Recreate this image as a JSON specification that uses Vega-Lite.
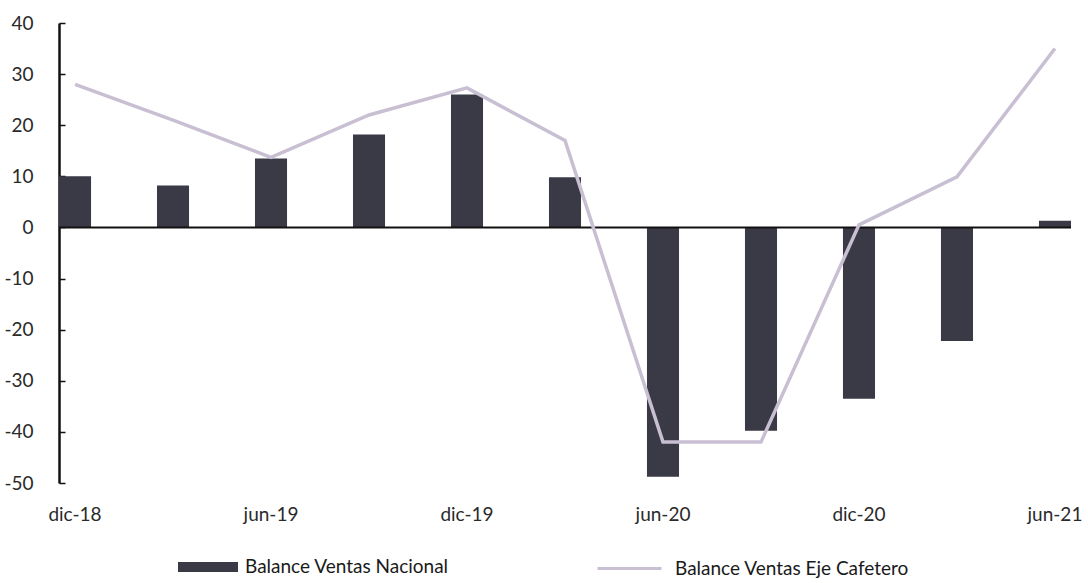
{
  "$schema": "https://vega.github.io/schema/vega-lite/v6.json",
  "autosize": "none",
  "width": 1012,
  "height": 460,
  "padding": {"left": 59, "top": 23, "right": 17, "bottom": 100},
  "background": "white",
  "config": {
    "font": "Lato",
    "view": {"stroke": null},
    "axis": {"labelFont": "Lato", "labelColor": "#2a2a2a", "grid": false, "title": null},
    "axisX": {"domain": false, "ticks": false, "labelAngle": 0, "labelFontSize": 19, "labelPadding": 22, "labelOverlap": false, "labelBound": false, "labelFlush": false},
    "axisY": {"domainColor": "#111111", "domainWidth": 2.5, "tickColor": "#111111", "tickWidth": 1.5, "tickSize": -6, "labelFontSize": 19, "labelPadding": 32},
    "legend": {"labelFont": "Lato", "labelColor": "#1a1a1a", "labelFontSize": 19, "labelLimit": 500, "padding": 0, "title": null}
  },
  "datasets": {
    "series": [
      {"q": "dic-18", "nacional": 10, "eje": 28},
      {"q": "mar-19", "nacional": 8.2, "eje": 21},
      {"q": "jun-19", "nacional": 13.5, "eje": 13.7},
      {"q": "sep-19", "nacional": 18.2, "eje": 22},
      {"q": "dic-19", "nacional": 26, "eje": 27.3},
      {"q": "mar-20", "nacional": 9.8, "eje": 17},
      {"q": "jun-20", "nacional": -48.8, "eje": -42},
      {"q": "sep-20", "nacional": -39.8, "eje": -42},
      {"q": "dic-20", "nacional": -33.5, "eje": 0.5},
      {"q": "mar-21", "nacional": -22.2, "eje": 9.9},
      {"q": "jun-21", "nacional": 1.3, "eje": 35}
    ],
    "zero": [{"z": 0}]
  },
  "layer": [
    {
      "data": {"name": "series"},
      "mark": {"type": "bar"},
      "encoding": {
        "x": {
          "field": "q",
          "type": "nominal",
          "sort": null,
          "scale": {"paddingInner": 0.673, "paddingOuter": 0},
          "axis": {"labelExpr": "substring(datum.value, 0, 3) == 'mar' || substring(datum.value, 0, 3) == 'sep' ? '' : datum.value"}
        },
        "y": {
          "field": "nacional",
          "type": "quantitative",
          "scale": {"domain": [-50, 40], "nice": false},
          "axis": {"values": [-50, -40, -30, -20, -10, 0, 10, 20, 30, 40], "labelExpr": "'' + datum.value"}
        },
        "fill": {
          "datum": "Balance Ventas Nacional",
          "scale": {"range": ["#3a3946"]},
          "legend": {
            "orient": "none",
            "legendX": 119,
            "legendY": 514,
            "symbolType": "M-1,-0.17H1V0.17H-1Z",
            "symbolSize": 3600,
            "symbolStrokeWidth": 0,
            "symbolOpacity": 1,
            "labelOffset": 7
          }
        }
      }
    },
    {
      "data": {"name": "zero"},
      "mark": {"type": "rule", "color": "#111111", "strokeWidth": 2},
      "encoding": {"y": {"field": "z", "type": "quantitative"}}
    },
    {
      "data": {"name": "series"},
      "mark": {"type": "line", "strokeWidth": 3.5},
      "encoding": {
        "x": {
          "field": "q",
          "type": "nominal",
          "sort": null,
          "axis": {"labelExpr": "substring(datum.value, 0, 3) == 'mar' || substring(datum.value, 0, 3) == 'sep' ? '' : datum.value"}
        },
        "y": {
          "field": "eje",
          "type": "quantitative",
          "axis": {"values": [-50, -40, -30, -20, -10, 0, 10, 20, 30, 40], "labelExpr": "'' + datum.value"}
        },
        "stroke": {
          "datum": "Balance Ventas Eje Cafetero",
          "scale": {"range": ["#c9bfd3"]},
          "legend": {
            "orient": "none",
            "legendX": 537,
            "legendY": 512,
            "symbolType": "stroke",
            "symbolSize": 4096,
            "symbolStrokeWidth": 3,
            "labelOffset": 12
          }
        }
      }
    }
  ]
}
